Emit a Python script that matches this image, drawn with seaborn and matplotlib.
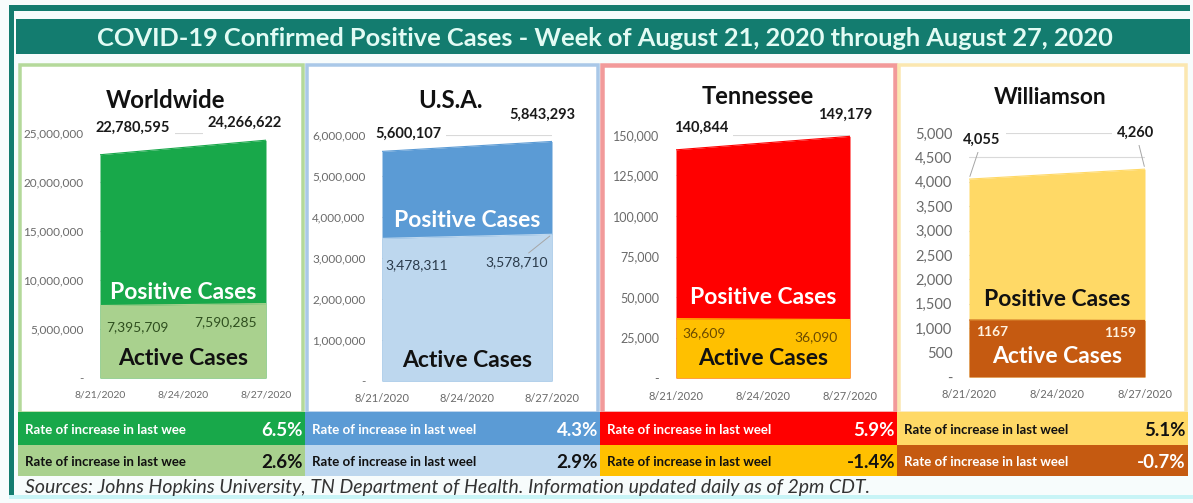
import pandas as pd
import numpy as np
import seaborn as sns
import matplotlib.pyplot as plt
from matplotlib.patches import Rectangle
from matplotlib.ticker import FuncFormatter

# data
regions = ['Worldwide', 'U.S.A.', 'Tennessee', 'Williamson']
dates = ['2020-08-21', '2020-08-27']
tick_dates = ['2020-08-21', '2020-08-24', '2020-08-27']
tick_labels = ['8/21/2020', '8/24/2020', '8/27/2020']
positive_first = [22780595, 5600107, 140844, 4055]
positive_last = [24266622, 5843293, 149179, 4260]
active_first = [7395709, 3478311, 36609, 1167]
active_last = [7590285, 3578710, 36090, 1159]
positive_rate = ['6.5%', '4.3%', '5.9%', '5.1%']
active_rate = ['2.6%', '2.9%', '-1.4%', '-0.7%']
rate_label = ['Rate of increase in last wee', 'Rate of increase in last weel',
              'Rate of increase in last weel', 'Rate of increase in last weel']
y_max = [25000000, 6000000, 150000, 5000]
y_step = [5000000, 1000000, 25000, 500]

title = 'COVID-19 Confirmed Positive Cases - Week of August 21, 2020 through August 27, 2020'
source = 'Sources: Johns Hopkins University, TN Department of Health. Information updated daily as of 2pm CDT.'

# styling
pos_color = ['#18a84a', '#5b9bd5', '#ff0000', '#ffd966']
act_color = ['#a9d18e', '#bdd7ee', '#ffc000', '#c55a11']
frame_color = ['#b4d99a', '#a9c8e8', '#f29a9a', '#fbe7b0']
pos_text = ['white', 'white', 'white', '#111111']
act_text = ['#111111', '#111111', '#111111', 'white']
act_num_color = ['#2f4f1f', '#2a3a4a', '#6b4a00', '#fff2e0']
row1_text = ['white', 'white', 'white', '#111111']
row2_text = ['#111111', '#111111', '#111111', 'white']
ytick_size = [8.5, 8.5, 9, 10.5]
xtick_size = [7.5, 8, 8, 8]
title_size = [17.3, 17.3, 17, 16.3]
teal = '#137c6f'

sns.set_theme(style='white')
plt.rcParams['font.family'] = ['Lato', 'DejaVu Sans']

W, H = 1193, 503
fig = plt.figure(figsize=(W / 100, H / 100), dpi=100)
fig.patch.set_facecolor('#f7fcfc')


def fx(x):
    return x / W


def fy(y):
    return 1 - y / H


def box(x0, y0, x1, y1, **kw):
    fig.patches.append(Rectangle((fx(x0), fy(y1)), (x1 - x0) / W, (y1 - y0) / H,
                                 transform=fig.transFigure, zorder=0, **kw))


# outer frame and title bar
box(9, 5, 1190, 11, color=teal, lw=0)
box(9, 5, 14, 497, color=teal, lw=0)
box(9, 495, 1193, 499, color='#c8f4f6', lw=0)
box(16, 19, 1190, 54, color=teal, lw=0)
fig.text(fx(605), fy(38), title, ha='center', va='center', fontsize=18.3,
         fontweight='bold', color='#e2fbf4')

# panels
panel_x = [(18, 305), (305, 600), (600, 897), (897, 1188)]
axes_px = [(100, 266, 133, 378), (382, 552, 135, 381), (676, 850, 135, 378), (969, 1145, 133, 377)]
title_px = [(166, 101), (450, 101), (758, 97), (1050, 98)]
pos_off = [((33, 27), (-21, 17)), ((26, 18), (-10, 27)), ((25, 22), (-5, 22)), ((13, 39), (-9, 36))]
act_off = [((37, -22), (-40, -19)), ((35, -27), (-35, -28)), ((28, -14), (-34, -18)), ((23, -12), (-25, -13))]
pos_leader = [(False, False), (False, False), (False, False), (True, True)]
act_leader = [(False, False), (False, True), (False, False), (False, False)]
pos_lab_y = [0.351, 0.654, 0.33, 0.316]
act_lab_y = [0.08, 0.085, 0.082, 0.086]

x = pd.to_datetime(dates)
xt = pd.to_datetime(tick_dates)
leader = dict(arrowstyle='-', color='#a6a6a6', lw=0.7, shrinkA=0, shrinkB=2)

for i, name in enumerate(regions):
    px0, px1 = panel_x[i]
    fr = 3.5 if i != 2 else 4.5
    box(px0 + fr / 2, 65, px1 - fr / 2, 413, facecolor='white', edgecolor=frame_color[i], lw=fr * 0.72)
    # rate rows
    box(px0, 412, px1, 445, color=pos_color[i], lw=0)
    box(px0, 445, px1, 476, color=act_color[i], lw=0)
    fig.text(fx(px0 + 7), fy(430), rate_label[i], ha='left', va='center', fontsize=9.5,
             fontweight='bold', color=row1_text[i])
    fig.text(fx(px1 - 2), fy(430), positive_rate[i], ha='right', va='center', fontsize=13.5,
             fontweight='bold', color=row1_text[i])
    fig.text(fx(px0 + 7), fy(462), rate_label[i], ha='left', va='center', fontsize=9.5,
             fontweight='bold', color=row2_text[i])
    fig.text(fx(px1 - 2), fy(462), active_rate[i], ha='right', va='center', fontsize=13.5,
             fontweight='bold', color=row2_text[i])

    ax0, ax1, ay0, ay1 = axes_px[i]
    ax = fig.add_axes([fx(ax0), fy(ay1), (ax1 - ax0) / W, (ay1 - ay0) / H])
    ax.set_zorder(5)
    ax.set_facecolor('none')
    pos = [positive_first[i], positive_last[i]]
    act = [active_first[i], active_last[i]]
    df = pd.DataFrame({'date': x, 'positive': pos, 'active': act})
    ax.fill_between(df['date'], df['positive'], color=pos_color[i], lw=0, zorder=2)
    ax.fill_between(df['date'], df['active'], color=act_color[i], lw=0, zorder=2)
    sns.lineplot(data=df, x='date', y='positive', ax=ax, color=pos_color[i], lw=0.8, zorder=2)
    sns.lineplot(data=df, x='date', y='active', ax=ax, color=act_color[i], lw=0.8, zorder=2)
    ax.set_xlim(x[0], x[-1])
    ax.set_ylim(0, y_max[i])
    ax.set_yticks(np.arange(0, y_max[i] + 1, y_step[i]))
    ax.yaxis.set_major_formatter(FuncFormatter(lambda v, p: '-' if v == 0 else f'{int(v):,}'))
    ax.set_xticks(xt)
    ax.set_xticklabels(tick_labels)
    ax.yaxis.grid(True, color='#d9d9d9', lw=0.8)
    ax.xaxis.grid(False)
    ax.set_axisbelow(True)
    ax.tick_params(axis='y', labelsize=ytick_size[i], colors='#6a6a6a', pad=12, length=0)
    ax.tick_params(axis='x', labelsize=xtick_size[i], colors='#6a6a6a', pad=9, length=0)
    ax.set_xlabel('')
    ax.set_ylabel('')
    for s in ax.spines.values():
        s.set_visible(False)

    # panel heading, drawn with the axes so it stays on top of label boxes
    ax.text(fx(title_px[i][0]), fy(title_px[i][1]), name, transform=fig.transFigure,
            ha='center', va='center', fontsize=title_size[i], fontweight='bold',
            color='#111111', zorder=6)

    # value labels
    for j in range(2):
        ax.annotate(f'{pos[j]:,}', (x[j], pos[j]), xytext=pos_off[i][j], textcoords='offset pixels',
                    ha='center', va='center', fontsize=10.5, fontweight='bold', color='#1a1a1a',
                    annotation_clip=False, zorder=4,
                    bbox=dict(boxstyle='square,pad=0.35', fc='white', ec='none'),
                    arrowprops=leader if pos_leader[i][j] else None)
        lab = f'{act[j]:,}' if i < 3 else f'{act[j]}'
        ax.annotate(lab, (x[j], act[j]), xytext=act_off[i][j], textcoords='offset pixels',
                    ha='center', va='center', fontsize=10, fontweight='bold' if i == 3 else 'normal',
                    color=act_num_color[i], annotation_clip=False, zorder=4,
                    arrowprops=leader if act_leader[i][j] else None)
    ax.text(0.5, pos_lab_y[i], 'Positive Cases', transform=ax.transAxes, ha='center', va='center',
            fontsize=16.5, fontweight='bold', color=pos_text[i], zorder=4)
    ax.text(0.5, act_lab_y[i], 'Active Cases', transform=ax.transAxes, ha='center', va='center',
            fontsize=16.5, fontweight='bold', color=act_text[i], zorder=4)

fig.text(fx(25), fy(487), source, ha='left', va='center', fontsize=14, style='italic', color='#333333')

plt.savefig('out.png', dpi=100, facecolor=fig.get_facecolor())
